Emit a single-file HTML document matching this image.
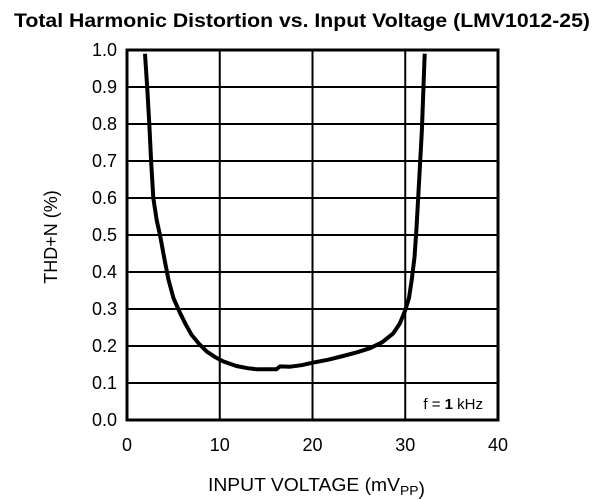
<!DOCTYPE html>
<html><head><meta charset="utf-8"><style>
body{margin:0;background:#fff;}
svg{display:block;font-family:"Liberation Sans",Arial,sans-serif;}
</style></head><body>
<svg id="chart" width="610" height="500">
<text x="14" y="27" textLength="576" lengthAdjust="spacingAndGlyphs" font-size="19" font-weight="bold">Total Harmonic Distortion vs. Input Voltage (LMV1012-25)</text>
<g id="grid"></g>
<g id="ticks"></g>
<path id="curve" fill="none" stroke="#000" stroke-width="4" stroke-linejoin="round"></path>
<rect x="127" y="50" width="371" height="370" fill="none" stroke="#000" stroke-width="3"/>
<text x="483" y="409" text-anchor="end" font-size="15">f = <tspan font-weight="bold">1</tspan> kHz</text>
<text x="208" y="491" textLength="217" lengthAdjust="spacingAndGlyphs" font-size="18">INPUT VOLTAGE (mV<tspan font-size="13" dy="4">PP</tspan>)</text>
<text transform="translate(57,237) rotate(-90)" text-anchor="middle" font-size="18">THD+N (%)</text>
</svg>
<script>
const xTicks=[0,10,20,30,40];
const yTicks=[0,0.1,0.2,0.3,0.4,0.5,0.6,0.7,0.8,0.9,1.0];
const xValues=[1.94,2.2,2.4,2.6,2.84,3.2,3.56,4.0,4.46,5.0,5.7,6.3,6.97,7.8,8.6,9.5,10.4,11.8,13.0,14.0,15.5,16.1,16.5,17.6,18.8,20.1,21.7,23.3,24.8,26.2,27.5,28.7,29.4,30.0,30.4,30.7,31.0,31.2,31.5,31.8,32.1];
const yValues=[0.99,0.89,0.80,0.70,0.60,0.54,0.50,0.44,0.38,0.33,0.29,0.26,0.23,0.205,0.185,0.17,0.158,0.146,0.14,0.137,0.137,0.137,0.145,0.144,0.148,0.155,0.163,0.173,0.183,0.194,0.21,0.234,0.26,0.297,0.33,0.378,0.44,0.514,0.65,0.784,0.99];
const X0=127,X1=498,Y0=420,Y1=50;
const xs=v=>X0+(v-0)/(40-0)*(X1-X0);
const ys=v=>Y0-(v-0)/(1-0)*(Y0-Y1);
const NS="http://www.w3.org/2000/svg";
const grid=document.getElementById('grid'),ticks=document.getElementById('ticks');
xTicks.forEach(t=>{
  const l=document.createElementNS(NS,'line');
  l.setAttribute('x1',xs(t));l.setAttribute('x2',xs(t));l.setAttribute('y1',Y1);l.setAttribute('y2',Y0);
  l.setAttribute('stroke','#000');l.setAttribute('stroke-width','2');
  
  
  grid.appendChild(l);
  const tx=document.createElementNS(NS,'text');
  tx.setAttribute('x',xs(t));tx.setAttribute('y',451);tx.setAttribute('text-anchor','middle');tx.setAttribute('font-size','18');
  tx.textContent=t;
  
  
  ticks.appendChild(tx);
});
yTicks.forEach(t=>{
  const l=document.createElementNS(NS,'line');
  l.setAttribute('x1',X0);l.setAttribute('x2',X1);l.setAttribute('y1',ys(t));l.setAttribute('y2',ys(t));
  l.setAttribute('stroke','#000');l.setAttribute('stroke-width','2');
  
  
  grid.appendChild(l);
  const tx=document.createElementNS(NS,'text');
  tx.setAttribute('x',117);tx.setAttribute('y',ys(t)+6);tx.setAttribute('text-anchor','end');tx.setAttribute('font-size','18');
  tx.textContent=t.toFixed(1);
  
  
  ticks.appendChild(tx);
});
let d='';
xValues.forEach((v,i)=>{d+=(i?'L':'M')+xs(v).toFixed(1)+','+ys(yValues[i]).toFixed(1);});
document.getElementById('curve').setAttribute('d',d);
</script>
</body></html>
